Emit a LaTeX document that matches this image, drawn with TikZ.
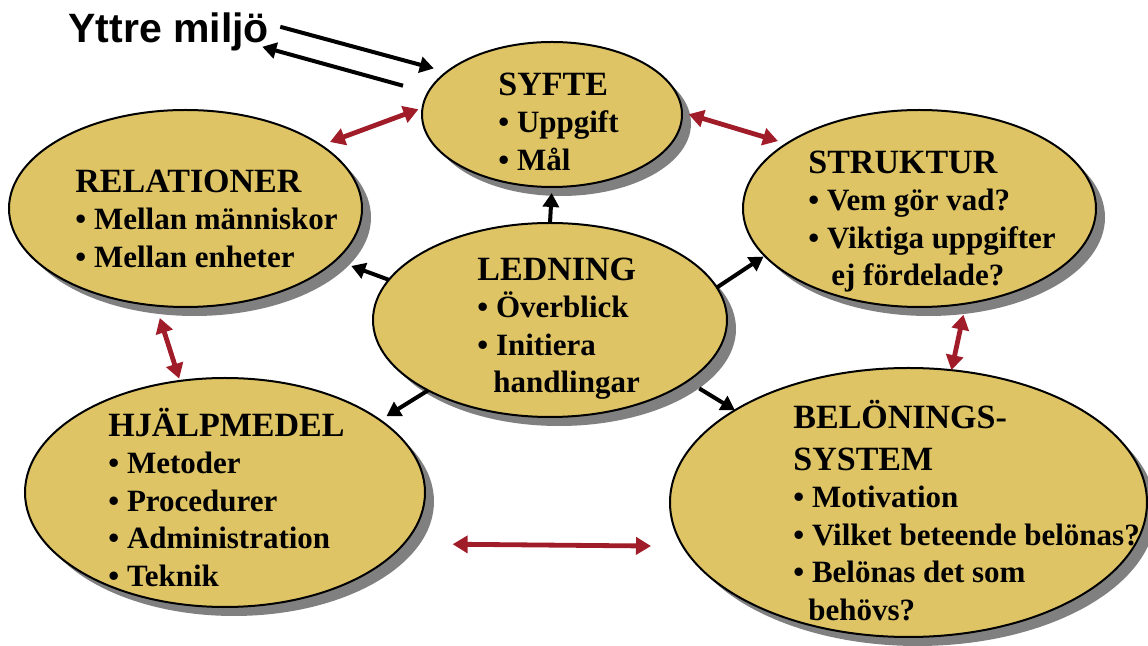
\documentclass[tikz,border=0pt]{standalone}
\usepackage{fontspec}
\setmainfont{Liberation Serif}
\newfontfamily\arialfont{Liberation Sans}
\usepackage{xcolor}
\usepackage{tikz}
\usetikzlibrary{arrows.meta,shapes.geometric,shadows}
\definecolor{gold}{HTML}{DFC466}
\definecolor{shadowgray}{HTML}{808080}
\definecolor{darkred}{HTML}{A01C28}
\newcommand{\hd}[1]{{\fontsize{17}{18.75}\selectfont\rule{0pt}{15pt}#1}}
\newcommand{\hdb}[1]{{\fontsize{17}{18.75}\selectfont #1}}

\begin{document}
\begin{tikzpicture}[x=0.5pt, y=-0.5pt,
    blob/.style={ellipse, draw=black, line width=1pt, fill=gold, inner sep=0pt, outer sep=0pt,
        drop shadow={shadow xshift=4.5pt, shadow yshift=-4.5pt, fill=shadowgray, opacity=1}},
    txt/.style={anchor=north west, align=left, inner sep=0pt, font=\bfseries\fontsize{15.5}{18.75}\selectfont},
    blk/.style={line width=2pt, -{Triangle[length=7pt,width=8pt]}},
    link/.style={draw=darkred, line width=2.4pt, {Triangle[length=7.5pt,width=8.5pt]}-{Triangle[length=7.5pt,width=8.5pt]}}]
    \useasboundingbox (0,0) rectangle (1148,646);

    \node[blob, minimum width=130pt, minimum height=72.5pt] (syfte) at (552,114.5) {};
    \node[blob, minimum width=176.5pt, minimum height=98.5pt] (rel) at (185.5,208.5) {};
    \node[blob, minimum width=177pt, minimum height=97pt] (led) at (550,320) {};
    \node[blob, minimum width=176.5pt, minimum height=98.5pt] (str) at (919.5,208.5) {};
    \node[blob, minimum width=200pt, minimum height=114.5pt] (hjm) at (225,492.5) {};
    \node[blob, minimum width=238.5pt, minimum height=134.5pt] (bel) at (908.5,502.5) {};

    \node[txt] (syfte-t) at (498,65) {\hd{SYFTE}\\• Uppgift\\• Mål};
    \node[txt] (rel-t) at (75,162) {\hd{RELATIONER}\\• Mellan människor\\• Mellan enheter};
    \node[txt] (led-t) at (477,250) {\hd{LEDNING}\\• Överblick\\• Initiera\\\hspace*{8pt}handlingar};
    \node[txt] (str-t) at (808,143) {\hd{STRUKTUR}\\• Vem gör vad?\\• Viktiga uppgifter\\\hspace*{11.5pt}ej fördelade?};
    \node[txt] (hjm-t) at (108,406) {\hd{HJÄLPMEDEL}\\• Metoder\\• Procedurer\\• Administration\\• Teknik};
    \node[txt] (bel-t) at (793,398) {\hd{BELÖNINGS-}\\[2.2pt]\hdb{SYSTEM}\\• Motivation\\• Vilket beteende belönas?\\• Belönas det som\\\hspace*{7.5pt}behövs?};

    \node[anchor=base west, inner sep=0pt, font=\arialfont\bfseries\fontsize{20.5}{24}\selectfont] (ym) at (68,43) {Yttre miljö};

    \draw[blk, shorten >=6.7pt] ([shift={(5.5pt,2.8pt)}]ym.east) -- (syfte.158.7);
    \draw[blk, shorten <=13pt] (syfte.170.35) -- ([shift={(-3.5pt,-7.2pt)}]ym.east);

    \draw[blk, shorten >=3pt] (led.north) -- (syfte.south);
    \draw[blk, shorten >=8.3pt] (led.166) -- (rel.-19.6);
    \draw[blk, shorten >=0.7pt] (led.11.6) -- (str.-163.1);
    \draw[blk, shorten >=3.8pt] (led.-150.4) -- (hjm.25);
    \draw[blk, shorten <=7pt] (led.-24.7) -- (bel.152.2);

    \draw[link, shorten <=2.2pt, shorten >=4.8pt] (syfte.177.2) -- (rel.25.7);
    \draw[link, shorten <=3.5pt, shorten >=4.5pt] (syfte.1) -- (str.154.2);
    \draw[link, shorten <=5.7pt] (str.-64.4) -- (bel.72.6);
    \draw[link, shorten <=6.5pt, shorten >=1.2pt] (rel.-107) -- (hjm.112.9);
    \draw[link, shorten <=24.4pt, shorten >=16pt] (hjm.-16.3) -- (bel.-169.5);
\end{tikzpicture}
\end{document}
